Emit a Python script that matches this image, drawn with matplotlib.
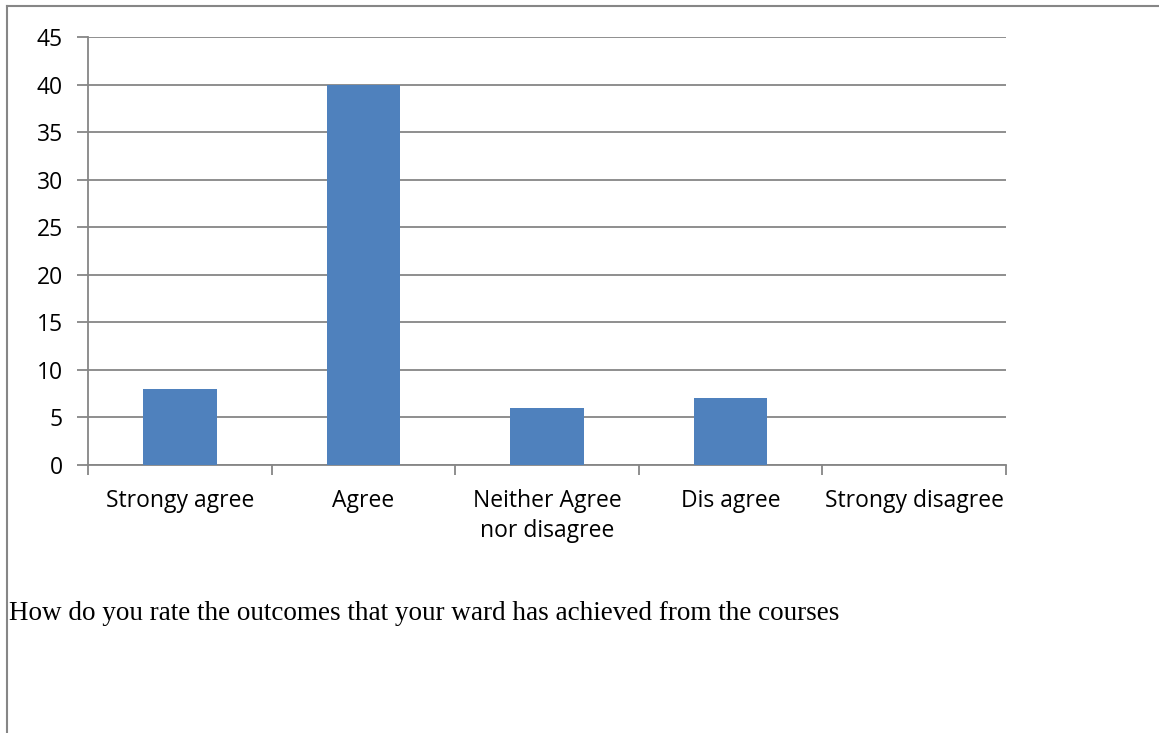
import matplotlib.pyplot as plt
from matplotlib.lines import Line2D

# Survey responses
categories = ['Strongy agree', 'Agree', 'Neither Agree\nnor disagree', 'Dis agree', 'Strongy disagree']
counts = [8, 40, 6, 7, 0]
y_ticks = [0, 5, 10, 15, 20, 25, 30, 35, 40, 45]
caption = 'How do you rate the outcomes that your ward has achieved from the courses'

grey = '#868686'

fig = plt.figure(figsize=(11.59, 7.33), dpi=100)
ax = fig.add_axes([88 / 1159, 1 - 465 / 733, (1006 - 88) / 1159, (465 - 37) / 733])

x = range(len(categories))
ax.bar(x, counts, width=0.4, color='#4F81BD', zorder=3)

ax.set_xlim(-0.5, len(categories) - 0.5)
ax.set_ylim(0, 45)
ax.set_yticks(y_ticks)
ax.yaxis.grid(True, color=grey, linewidth=1.3, zorder=0)

# category boundaries get the x ticks, labels sit in the middle
ax.set_xticks([i - 0.5 for i in range(len(categories) + 1)], minor=False)
ax.set_xticklabels([])
ax.set_xticks(list(x), minor=True)
ax.set_xticklabels(categories, minor=True, fontsize=16.5, family='Open Sans', linespacing=1.35)
ax.tick_params(axis='x', which='major', length=7, color=grey, width=1.3, direction='out')
ax.tick_params(axis='x', which='minor', length=0, pad=17)
ax.tick_params(axis='y', length=8, color=grey, width=1.3, labelsize=16.5, pad=10)
for lbl in ax.get_yticklabels():
    lbl.set_family('Open Sans')

for side in ['top', 'right']:
    ax.spines[side].set_visible(False)
for side in ['left', 'bottom']:
    ax.spines[side].set_color(grey)
    ax.spines[side].set_linewidth(1.3)

# outer frame lines
fig.add_artist(Line2D([7 / 1159, 7 / 1159], [0, 1 - 6 / 733], color=grey, lw=1.5, transform=fig.transFigure))
fig.add_artist(Line2D([7 / 1159, 1], [1 - 6 / 733, 1 - 6 / 733], color=grey, lw=1.5, transform=fig.transFigure))

fig.text(9 / 1159, 1 - 620 / 733, caption, family='Liberation Serif', fontsize=19.5, va='baseline', ha='left')

fig.savefig('out.png', dpi=100)
